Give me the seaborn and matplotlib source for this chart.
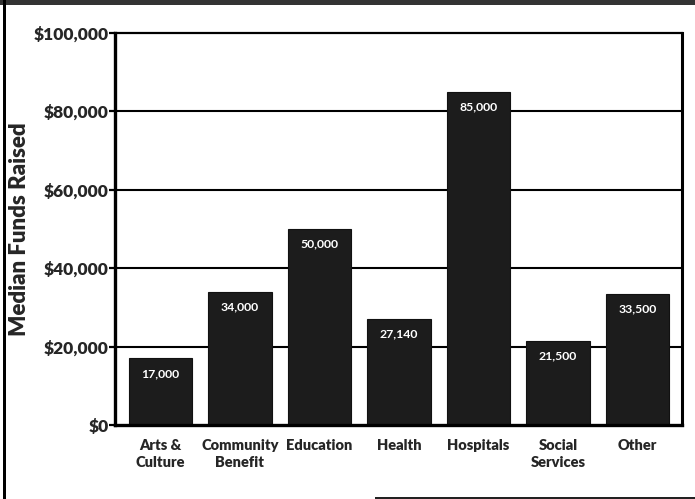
import matplotlib
matplotlib.use("Agg")
import matplotlib.pyplot as plt
from matplotlib.patches import Rectangle
from matplotlib.ticker import FuncFormatter
import seaborn as sns
import pandas as pd

categories = ["Arts &\nCulture", "Community\nBenefit", "Education", "Health",
              "Hospitals", "Social\nServices", "Other"]
median_funds = [17000, 34000, 50000, 27140, 85000, 21500, 33500]
value_labels = ["17,000", "34,000", "50,000", "27,140", "85,000", "21,500", "33,500"]
y_ticks = [0, 20000, 40000, 60000, 80000, 100000]

df = pd.DataFrame({"category": categories, "funds": median_funds})

sns.set_theme(style="white")
plt.rcParams["font.family"] = ["Lato", "DejaVu Sans"]

W, H = 695, 499
fig = plt.figure(figsize=(W / 100, H / 100), dpi=100)
ax = fig.add_axes([115 / W, 1 - 425 / H, (682 - 115) / W, (425 - 33) / H])

# horizontal rules behind the bars
for t in y_ticks[1:-1]:
    ax.axhline(t, color="black", lw=1.5, zorder=0)

sns.barplot(data=df, x="category", y="funds", color="#1c1c1c", width=0.8,
            saturation=1, ax=ax, zorder=2)
for p in ax.patches:
    p.set_edgecolor("#111111")
    p.set_linewidth(0.8)

for i, (v, lab) in enumerate(zip(median_funds, value_labels)):
    ax.annotate(lab, (i, v), xytext=(0, -15), textcoords="offset pixels",
                ha="center", va="center", color="white", fontsize=8.8,
                fontweight="bold", zorder=3)

ax.set_xlim(-0.57, 6.56)
ax.set_ylim(0, 100000)
ax.set_yticks(y_ticks)
ax.yaxis.set_major_formatter(FuncFormatter(lambda v, _: f"${v:,.0f}"))
ax.tick_params(axis="y", left=True, length=4, width=1.6, color="black",
               labelsize=12.5, pad=0.5)
ax.tick_params(axis="x", bottom=False, labelsize=10.5, pad=4)
for lbl in ax.get_yticklabels():
    lbl.set_fontweight("heavy")
for lbl in ax.get_xticklabels():
    lbl.set_fontweight("heavy")
    lbl.set_linespacing(1.35)

ax.set_xlabel("")
ax.set_ylabel("Median Funds Raised", fontsize=16, fontweight="heavy")
ax.yaxis.set_label_coords(-0.15, 0.5)

for side, lw in {"left": 2.4, "bottom": 2.4, "right": 2.2, "top": 1.6}.items():
    ax.spines[side].set_visible(True)
    ax.spines[side].set_color("black")
    ax.spines[side].set_linewidth(lw)

# page frame around the chart
fig.add_artist(Rectangle((0, 1 - 5 / H), 1, 5 / H, transform=fig.transFigure,
                         facecolor="#333333", edgecolor="none"))
fig.add_artist(Rectangle((3 / W, 0), 3 / W, 1, transform=fig.transFigure,
                         facecolor="black", edgecolor="none"))
fig.add_artist(Rectangle((375 / W, 0), 1 - 375 / W, 2.5 / H, transform=fig.transFigure,
                         facecolor="#222222", edgecolor="none"))

fig.savefig("out.png", dpi=100)
